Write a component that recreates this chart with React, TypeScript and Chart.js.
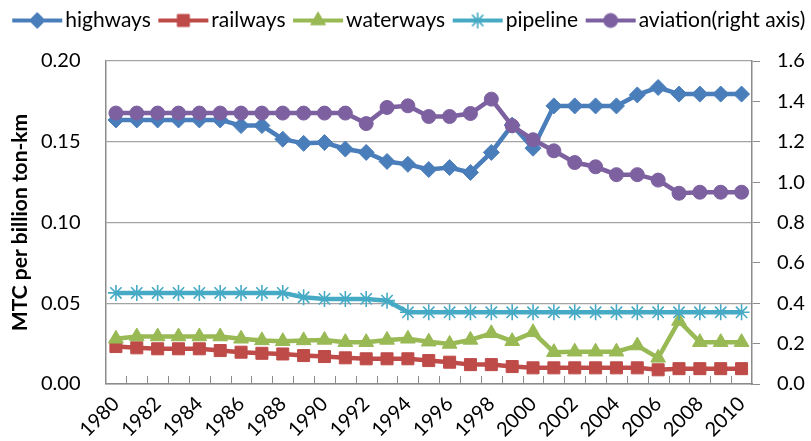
import React, { useEffect, useRef } from 'react';
import { Chart, registerables } from 'chart.js';
import { drawPoint } from 'chart.js/helpers';

Chart.register(...registerables);

const years = [
  '1980', '1981', '1982', '1983', '1984', '1985', '1986', '1987', '1988', '1989',
  '1990', '1991', '1992', '1993', '1994', '1995', '1996', '1997', '1998', '1999',
  '2000', '2001', '2002', '2003', '2004', '2005', '2006', '2007', '2008', '2009', '2010',
];

const highways = [
  0.1635, 0.1635, 0.1635, 0.1635, 0.1635, 0.1635, 0.160, 0.160, 0.1516, 0.149,
  0.1495, 0.1455, 0.1434, 0.1378, 0.136, 0.1328, 0.134, 0.131, 0.1434, 0.1603,
  0.146, 0.1722, 0.1722, 0.1722, 0.1722, 0.179, 0.1836, 0.1795, 0.1795, 0.1795, 0.1795,
];

const railways = [
  0.0232, 0.0224, 0.0218, 0.0218, 0.0218, 0.0207, 0.0197, 0.019, 0.0186, 0.0176,
  0.017, 0.0162, 0.0156, 0.0156, 0.0156, 0.0145, 0.0135, 0.012, 0.012, 0.0108,
  0.010, 0.010, 0.010, 0.010, 0.010, 0.010, 0.0088, 0.0095, 0.0095, 0.0095, 0.0095,
];

const waterways = [
  0.028, 0.0294, 0.0294, 0.0294, 0.0294, 0.0294, 0.028, 0.027, 0.0265, 0.027,
  0.0273, 0.0259, 0.0259, 0.0273, 0.028, 0.0262, 0.0248, 0.0273, 0.0314, 0.0265,
  0.032, 0.0197, 0.020, 0.020, 0.020, 0.0238, 0.0162, 0.039, 0.0259, 0.0259, 0.0259,
];

const pipeline = [
  0.0564, 0.0564, 0.0564, 0.0564, 0.0564, 0.0564, 0.0564, 0.0564, 0.0564, 0.0537,
  0.0527, 0.0527, 0.0527, 0.0516, 0.0444, 0.0444, 0.0444, 0.0444, 0.0444, 0.0444,
  0.0444, 0.0444, 0.0444, 0.0444, 0.0444, 0.0444, 0.0444, 0.0444, 0.0444, 0.0444, 0.0444,
];

const aviation = [
  1.342, 1.342, 1.342, 1.342, 1.342, 1.342, 1.342, 1.342, 1.342, 1.342,
  1.342, 1.342, 1.29, 1.37, 1.378, 1.325, 1.325, 1.34, 1.411, 1.279,
  1.21, 1.155, 1.097, 1.076, 1.037, 1.037, 1.01, 0.945, 0.95, 0.95, 0.95,
];

const seriesNames = ['highways', 'railways', 'waterways', 'pipeline', 'aviation(right axis)'];
const yTitle = 'MTC per billion ton-km';

const FONT = 'Lato, "Liberation Sans", sans-serif';
const GRID = '#a3a3a3';
const AXIS = '#8c8c8c';
const LEGEND_FONT = 21;
const LEGEND_BOX = 49;
const LEGEND_PAD = 1;

const makeIcon = (color: string, style: string, radius: number, bw: number) => {
  const W = 120;
  const H = 22;
  const c = document.createElement('canvas');
  c.width = W;
  c.height = H;
  const ctx = c.getContext('2d') as CanvasRenderingContext2D;
  const lineEnd = W / 2 + LEGEND_BOX / 2 + LEGEND_FONT / 2 - 3;
  const lineStart = lineEnd - 50;
  ctx.strokeStyle = color;
  ctx.lineWidth = 4;
  ctx.beginPath();
  ctx.moveTo(lineStart, H / 2);
  ctx.lineTo(lineEnd, H / 2);
  ctx.stroke();
  ctx.fillStyle = color;
  ctx.strokeStyle = color;
  ctx.lineWidth = bw;
  drawPoint(ctx, { pointStyle: style, radius, rotation: 0, borderWidth: bw } as any, (lineStart + lineEnd) / 2, H / 2);
  return c;
};

const innerTicks = {
  id: 'innerTicks',
  beforeDatasetsDraw(chart: any) {
    const xs = chart.scales.x;
    const ctx = chart.ctx as CanvasRenderingContext2D;
    ctx.save();
    ctx.strokeStyle = AXIS;
    ctx.lineWidth = 1;
    ctx.beginPath();
    for (let i = 1; i < years.length; i++) {
      const px = Math.round(xs.getPixelForValue(i - 0.5)) + 0.5;
      ctx.moveTo(px, xs.top);
      ctx.lineTo(px, xs.top - 8);
    }
    ctx.stroke();
    ctx.restore();
  },
};

export default function App() {
  const ref = useRef<HTMLCanvasElement | null>(null);

  useEffect(() => {
    document.body.style.margin = '0';
    const canvas = ref.current;
    if (!canvas) return;

    const specs = [
      { data: highways, color: '#4A7EBB', style: 'rectRot', radius: 8, bw: 1, axis: 'y', order: 5 },
      { data: railways, color: '#BE4B48', style: 'rect', radius: 8.5, bw: 1, axis: 'y', order: 4 },
      { data: waterways, color: '#98B954', style: 'triangle', radius: 8.5, bw: 1, axis: 'y', order: 3 },
      { data: pipeline, color: '#46AAC5', style: 'star', radius: 8, bw: 1.6, axis: 'y', order: 2 },
      { data: aviation, color: '#7D60A0', style: 'circle', radius: 7, bw: 1, axis: 'y2', order: 1 },
    ];

    const icons = specs.map((s) => makeIcon(s.color, s.style, s.radius, s.bw));

    const chart = new Chart(canvas, {
      type: 'line',
      data: {
        labels: years,
        datasets: specs.map((s, i) => ({
          label: seriesNames[i],
          data: s.data,
          yAxisID: s.axis,
          order: s.order,
          borderColor: s.color,
          backgroundColor: s.color,
          borderWidth: 4.5,
          tension: 0,
          pointStyle: s.style as any,
          pointRadius: s.radius,
          pointBorderWidth: s.bw,
          pointBackgroundColor: s.color,
          pointBorderColor: s.color,
        })),
      },
      options: {
        animation: false,
        responsive: false,
        devicePixelRatio: 1,
        layout: { padding: { top: 9, left: 0, right: 0, bottom: 0 } },
        plugins: {
          tooltip: { enabled: false },
          legend: {
            display: true,
            position: 'top',
            labels: {
              usePointStyle: true,
              pointStyleWidth: LEGEND_BOX,
              padding: LEGEND_PAD,
              color: '#000',
              font: { family: FONT, size: LEGEND_FONT },
              generateLabels: (ch: any) =>
                ch.data.datasets.map((d: any, i: number) => ({
                  text: d.label,
                  pointStyle: icons[i],
                  datasetIndex: i,
                  hidden: false,
                  fillStyle: specs[i].color,
                  strokeStyle: specs[i].color,
                  lineWidth: 0,
                  fontColor: '#000',
                })),
            },
          },
          title: {
            display: true,
            text: '',
            weight: 500,
            padding: 0,
            font: { size: 20, lineHeight: 1 },
          } as any,
        },
        scales: {
          x: {
            type: 'category',
            offset: true,
            grid: { display: false, drawTicks: false },
            border: { display: true, color: AXIS, width: 1.5 },
            ticks: {
              autoSkip: false,
              minRotation: 45,
              maxRotation: 45,
              padding: 8,
              color: '#000',
              font: { family: FONT, size: 20 },
              callback: (_v: any, i: number) => (i % 2 === 0 ? years[i] : ''),
            },
            afterFit: (s: any) => {
              s.height = 57;
            },
          },
          y: {
            position: 'left',
            min: 0,
            max: 0.2,
            grid: { color: GRID, lineWidth: 1.2, drawTicks: false },
            border: { display: true, color: AXIS, width: 1.5 },
            ticks: {
              stepSize: 0.05,
              padding: 25,
              color: '#000',
              font: { family: FONT, size: 20 },
              callback: (v: any) => Number(v).toFixed(2),
            },
            title: {
              display: true,
              text: yTitle,
              color: '#000',
              padding: { top: 8, bottom: 0 },
              font: { family: FONT, size: 21, weight: 'bold' },
            },
            afterFit: (s: any) => {
              s.width = 105.5;
            },
          },
          y2: {
            position: 'right',
            min: 0,
            max: 1.6,
            grid: { drawOnChartArea: false, drawTicks: true, tickLength: 8, color: AXIS, lineWidth: 1 },
            border: { display: true, color: AXIS, width: 1.5 },
            ticks: {
              stepSize: 0.2,
              padding: 17,
              color: '#000',
              font: { family: FONT, size: 20 },
              callback: (v: any) => Number(v).toFixed(1),
            },
            afterFit: (s: any) => {
              s.width = 59;
            },
          },
        },
      },
      plugins: [innerTicks],
    });

    return () => {
      chart.destroy();
    };
  }, []);

  return (
    <div style={{ width: 811, height: 441, background: '#fff' }}>
      <canvas ref={ref} width={811} height={441} style={{ display: 'block' }} />
    </div>
  );
}
